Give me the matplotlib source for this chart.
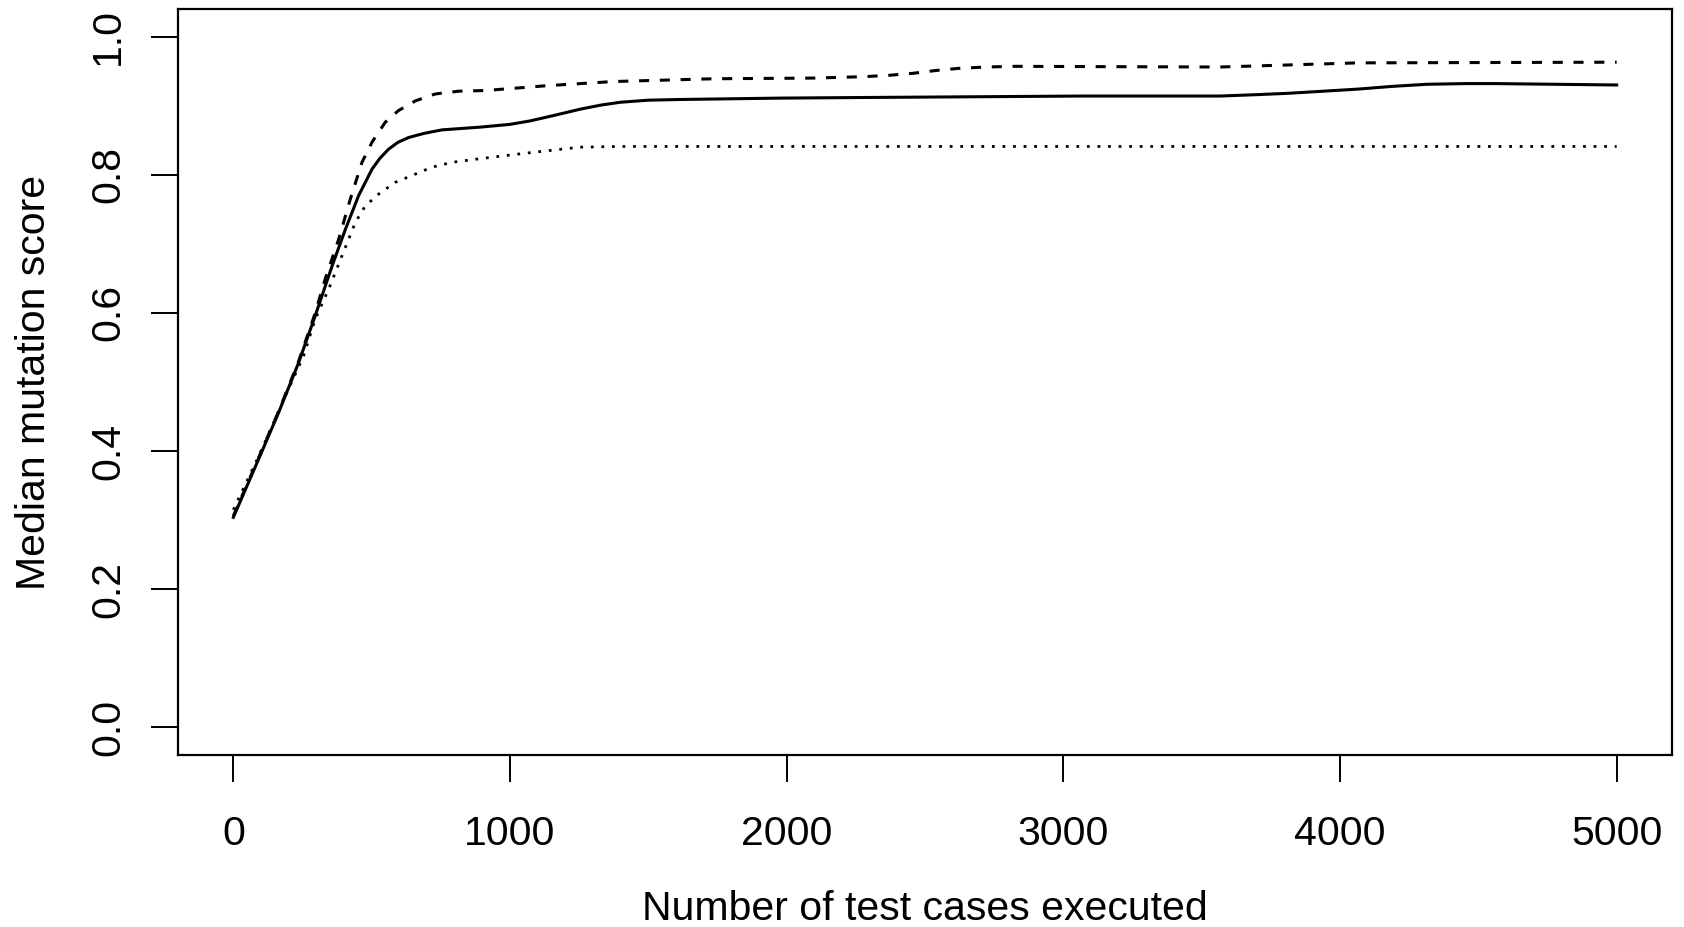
import matplotlib

matplotlib.use("Agg")
import matplotlib.pyplot as plt

# median mutation score vs number of executed test cases
solid_x = [0, 91, 164, 236, 296, 357, 405, 453, 501, 530, 561, 595, 634, 690, 754, 893,
           1000, 1073, 1160, 1254, 1330, 1399, 1500, 1615, 1977, 2322, 2700, 3068, 3567,
           3700, 3815, 3940, 4064, 4190, 4313, 4450, 4562, 5000]
solid_y = [0.304, 0.388, 0.456, 0.528, 0.596, 0.668, 0.721, 0.770, 0.808, 0.824, 0.837, 0.847,
           0.854, 0.860, 0.865, 0.869, 0.873, 0.878, 0.886, 0.895, 0.901, 0.905, 0.908, 0.909,
           0.911, 0.912, 0.913, 0.914, 0.914, 0.916, 0.918, 0.921, 0.924, 0.928, 0.931, 0.932,
           0.932, 0.930]

dashed_x = [0, 91, 164, 236, 296, 332, 381, 423, 465, 501, 549, 597, 658, 730, 814, 911,
            1134, 1374, 1736, 2097, 2278, 2370, 2459, 2540, 2620, 2720, 2819, 3566, 3815,
            4064, 5000]
dashed_y = [0.306, 0.390, 0.458, 0.530, 0.600, 0.649, 0.707, 0.765, 0.818, 0.847, 0.876, 0.893,
            0.907, 0.917, 0.921, 0.922, 0.929, 0.935, 0.939, 0.940, 0.942, 0.944, 0.947, 0.951,
            0.954, 0.956, 0.957, 0.956, 0.959, 0.962, 0.963]

dotted_x = [0, 91, 194, 254, 296, 344, 393, 441, 477, 525, 585, 646, 718, 790, 905, 1073,
            1254, 1400, 5000]
dotted_y = [0.315, 0.392, 0.485, 0.538, 0.591, 0.634, 0.683, 0.731, 0.755, 0.772, 0.789, 0.799,
            0.811, 0.818, 0.824, 0.832, 0.840, 0.841, 0.841]

x_ticks = [0, 1000, 2000, 3000, 4000, 5000]
y_ticks = [0.0, 0.2, 0.4, 0.6, 0.8, 1.0]

plt.rcParams["font.family"] = ["Liberation Sans", "DejaVu Sans"]
W, H = 1684, 927
fig = plt.figure(figsize=(W / 100, H / 100), dpi=100)
ax = fig.add_axes([178 / W, 1 - 755 / H, (1672 - 178) / W, (755 - 9) / H])

ax.plot(solid_x, solid_y, color="black", lw=2.2, ls="-")
ax.plot(dashed_x, dashed_y, color="black", lw=2.2, ls=(0, (3.3, 3.5)))
ax.plot(dotted_x, dotted_y, color="black", lw=2.0, ls=(0, (1, 2.8)))

ax.set_xlim(-200, 5200)
ax.set_ylim(-0.04, 1.04)
ax.set_xticks(x_ticks)
ax.set_xticklabels([str(v) for v in x_ticks])
ax.set_yticks(y_ticks)
ax.set_yticklabels([f"{v:.1f}" for v in y_ticks], rotation=90, va="center")
ax.tick_params(axis="both", direction="out", length=19.5, width=1.4, labelsize=29.5,
               color="black")
ax.tick_params(axis="x", pad=24)
ax.tick_params(axis="y", pad=17)
for sp in ax.spines.values():
    sp.set_linewidth(1.6)

fig.text(0.5 * (178 + 1672) / W, 1 - 920 / H, "Number of test cases executed",
         fontsize=29.5, ha="center", va="baseline")
fig.text(45 / W, 1 - 382 / H, "Median mutation score", fontsize=29.5, rotation=90,
         rotation_mode="anchor", ha="center", va="baseline")

fig.savefig("out.png", dpi=100)
